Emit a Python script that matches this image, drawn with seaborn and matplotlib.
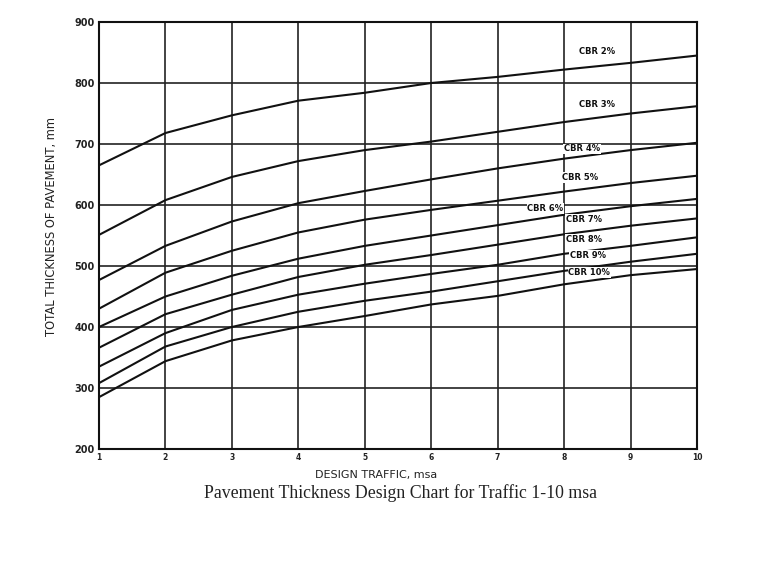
import matplotlib
matplotlib.use("Agg")
import matplotlib.pyplot as plt
import seaborn as sns
import pandas as pd

# ---- data ----
traffic = [1, 2, 3, 4, 5, 6, 7, 8, 9, 10]
cbr_labels = ["CBR 2%", "CBR 3%", "CBR 4%", "CBR 5%", "CBR 6%",
              "CBR 7%", "CBR 8%", "CBR 9%", "CBR 10%"]
cbr2 = [665, 718, 747, 771, 784, 800, 810, 822, 833, 845]
cbr3 = [551, 608, 646, 672, 690, 704, 720, 736, 750, 762]
cbr4 = [477, 533, 573, 603, 623, 642, 660, 676, 690, 702]
cbr5 = [430, 489, 525, 555, 576, 592, 607, 622, 636, 648]
cbr6 = [400, 450, 484, 512, 533, 550, 567, 584, 598, 610]
cbr7 = [366, 421, 453, 482, 502, 518, 535, 552, 566, 578]
cbr8 = [335, 390, 428, 453, 471, 487, 502, 520, 533, 547]
cbr9 = [308, 368, 400, 425, 443, 458, 475, 492, 507, 520]
cbr10 = [285, 344, 378, 400, 418, 437, 451, 470, 485, 495]
series = [cbr2, cbr3, cbr4, cbr5, cbr6, cbr7, cbr8, cbr9, cbr10]

# label anchor points (data coords)
label_x = [8.5, 8.5, 8.27, 8.24, 7.72, 8.3, 8.3, 8.36, 8.38]
label_y = [852, 765, 692, 645, 594, 577, 544, 518, 489]

y_ticks = [200, 300, 400, 500, 600, 700, 800, 900]
x_ticks = [1, 2, 3, 4, 5, 6, 7, 8, 9, 10]

rows = []
for lab, vals in zip(cbr_labels, series):
    for t, v in zip(traffic, vals):
        rows.append({"traffic": t, "thickness": v, "cbr": lab})
df = pd.DataFrame(rows)

sns.set_style("white")
plt.rcParams["font.family"] = ["DejaVu Sans"]

fig = plt.figure(figsize=(7.61, 5.64), dpi=100)
ax = fig.add_axes([99 / 761, 1 - 449 / 564, 598 / 761, 427 / 564])

sns.lineplot(data=df, x="traffic", y="thickness", hue="cbr",
             palette=["#111111"] * len(cbr_labels), legend=False,
             linewidth=1.5, ax=ax)

ax.set_xlim(1, 10)
ax.set_ylim(200, 900)
ax.set_xticks(x_ticks)
ax.set_yticks(y_ticks)
ax.set_xticklabels([str(v) for v in x_ticks], fontsize=5.5, fontweight="bold", color="#222222")
ax.set_yticklabels([str(v) for v in y_ticks], fontsize=7, fontweight="bold", color="#222222")
ax.tick_params(axis="both", direction="out", length=2, width=1, pad=1, colors="#222222")
ax.grid(True, color="#222222", linewidth=1.2)
for s in ax.spines.values():
    s.set_visible(True)
    s.set_color("#111111")
    s.set_linewidth(1.5)

ax.set_xlabel("DESIGN TRAFFIC, msa", fontsize=8, color="#222222")
ax.xaxis.set_label_coords((376 - 99) / 598, -21 / 427)
ax.set_ylabel("TOTAL THICKNESS OF PAVEMENT, mm", fontsize=8.3, color="#222222")
ax.yaxis.set_label_coords((58 - 99) / 598, (449 - 227) / 427)

for lab, lx, ly in zip(cbr_labels, label_x, label_y):
    ax.text(lx, ly, lab, fontsize=6, fontweight="bold", ha="center", va="center",
            color="#111111",
            bbox=dict(boxstyle="square,pad=0.1", fc="white", ec="none"))

fig.text(401 / 761, 1 - 493 / 564, "Pavement Thickness Design Chart for Traffic 1-10 msa",
         fontsize=12.8, family="Liberation Serif", ha="center", va="center", color="#222222")

fig.savefig("out.png", dpi=100, facecolor="white")
